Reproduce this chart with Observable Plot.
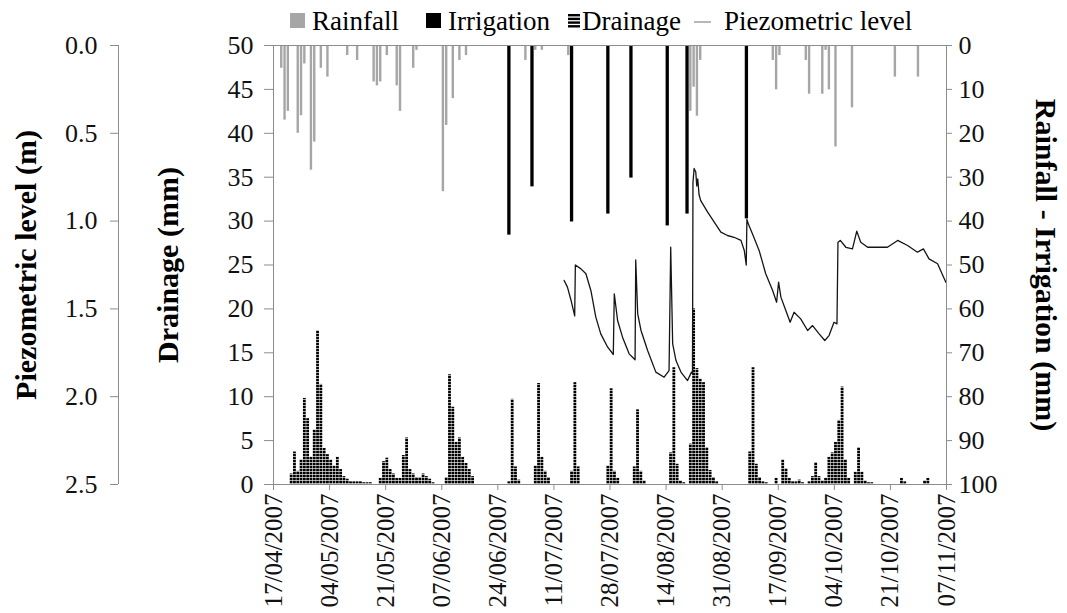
<!DOCTYPE html>
<html>
<head>
<meta charset="utf-8">
<script src="https://cdn.jsdelivr.net/npm/d3@7"></script>
<script src="https://cdn.jsdelivr.net/npm/@observablehq/plot@0.6"></script>
<style>
  body { margin: 0; background: #fff; font-family: "Liberation Serif", "Times New Roman", "DejaVu Serif", serif; }
  #wrap { position: relative; width: 1067px; height: 613px; overflow: hidden; background: #fff; }
  #legend { position: absolute; left: 0; top: 0; width: 1067px; height: 40px; font-size: 27px; color: #000; }
  #legend .lbl { position: absolute; top: 8px; line-height: 27px; white-space: nowrap; }
  #legend .sw { position: absolute; }
  #chart { position: absolute; left: 0; top: 40px; }
</style>
</head>
<body>
<svg width="0" height="0" style="position:absolute">
  <defs>
    <pattern id="drainPattern" patternUnits="userSpaceOnUse" width="4" height="3">
      <rect x="0" y="0" width="4" height="2.35" fill="#000"></rect>
    </pattern>
  </defs>
</svg>
<div id="wrap">
  <div id="legend"></div>
  <div id="chart"></div>
</div>
<script>
// ---------------- data ----------------
const startDate = "2007-04-17";
const tickLabels = ["17/04/2007","04/05/2007","21/05/2007","07/06/2007","24/06/2007","11/07/2007",
  "28/07/2007","14/08/2007","31/08/2007","17/09/2007","04/10/2007","21/10/2007","07/11/2007"];

// days counted from startDate
const rainDay = [2,3,4,7,8,9,11,12,14,16,22,25,30,31,32,34,37,38,42,43,51,52,54,56,58,
  76,79,81,89,126,127,128,129,151,152,153,161,162,166,167,168,170,175,188,195];
const rainMm = [5.2,17,15,20,16,4.2,28.4,22,5.2,7.2,2.3,3.4,8.3,9.2,8.3,2.3,9.2,15,5.2,1.1,33.3,18.2,12.1,3.4,2.3,
  3.4,1.1,1.1,2.3,15,9.5,16.1,3.4,3.4,10.1,2.3,3.4,11.1,11.1,1.1,10.1,23.1,14.2,7.2,7.2];

const irrigationDay = [71,78,90,101,108,119,125,143];
const irrigationMm = [43.2,32.2,40.2,38.4,30.2,41.1,38.4,39.5];

const drainageDay = [5,6,7,8,9,10,11,12,13,14,15,16,17,18,19,20,21,22,23,24,25,26,27,28,29,
  32,33,34,35,36,37,38,39,40,41,42,43,44,45,46,47,48,
  52,53,54,55,56,57,58,59,60,
  71,72,73,74,
  79,80,81,82,83,
  90,91,92,
  101,102,103,104,
  109,110,111,112,
  120,121,122,123,124,
  126,127,128,129,130,131,132,133,134,
  144,145,146,147,148,149,
  152,154,155,156,157,158,159,160,162,163,164,165,166,167,168,169,170,171,172,173,174,
  176,177,178,179,180,181,190,191,197,198];
const drainageMm = [1.2,3.7,1.5,2.8,9.8,7.5,3.1,6.2,17.5,11.4,4.1,3.4,2.8,2.1,3.1,1.7,0.9,0.6,0.3,0.3,0.3,0.3,0.2,0.2,0.2,
  0.7,2.6,3.0,1.7,1.2,0.7,0.7,3.3,5.3,1.7,1.2,0.8,0.8,1.2,0.9,0.6,0.2,
  0.8,12.5,8.8,4.8,5.3,3.1,2.4,1.7,0.9,
  0.3,9.7,2.0,0.5,
  2.1,11.5,3.1,1.5,0.8,
  1.5,11.6,2.0,
  2.1,10.9,1.5,0.7,
  2.0,8.5,1.5,0.4,
  3.6,13.3,2.3,0.4,0.2,
  4.6,20,13.2,12,11.6,4.2,1.6,0.8,0.3,
  3.7,13.3,2.3,0.8,0.3,0.2,
  0.7,2.8,1.8,0.7,0.3,0.3,0.5,0.2,0.3,0.9,2.5,0.9,0.4,0.7,3.1,3.6,4.8,7.3,11.1,2.8,0.7,
  1.4,4.2,1.4,0.4,0.2,0.2,0.7,0.3,0.4,0.7];

const piezoDay = [88.1,89.1,90.2,91.3,91.5,93.2,94.7,96.2,97.7,99.2,101.3,102.5,103.0,103.3,104.3,105.8,107.8,109.3,109.6,109.8,
  110.4,111.4,113.4,115.9,118.4,119.9,120.4,121.0,122.0,123.5,125.5,126.7,127.0,127.15,127.5,128.0,128.3,128.6,129.0,129.5,
  131.6,133.6,135.6,137.6,139.6,141.7,142.7,143.3,143.5,144.0,145.2,147.2,149.2,151.3,152.5,153.1,153.8,155.3,156.6,157.8,
  159.8,161.9,163.4,165.4,167.1,168.4,169.9,170.8,171.1,171.8,173.5,175.5,176.8,178.0,180.1,183.1,186.1,189.2,192.2,195.2,
  197.0,198.7,201.3,203.8];
const piezoLevel = [1.338,1.376,1.452,1.54,1.25,1.272,1.30,1.395,1.547,1.642,1.718,1.747,1.76,1.414,1.566,1.661,1.756,1.784,1.79,1.221,
  1.528,1.623,1.737,1.86,1.889,1.851,1.149,1.699,1.794,1.86,1.908,1.86,1.87,0.78,0.70,0.72,0.80,0.76,0.85,0.883,
  0.949,1.006,1.063,1.082,1.092,1.11,1.167,1.25,0.99,1.02,1.073,1.167,1.30,1.395,1.462,1.348,1.433,1.509,1.576,1.519,
  1.557,1.623,1.595,1.642,1.68,1.652,1.576,1.585,1.12,1.11,1.149,1.158,1.057,1.12,1.149,1.149,1.149,1.11,1.139,1.177,
  1.158,1.215,1.243,1.348];

const piezoTicks = [0, 0.5, 1.0, 1.5, 2.0, 2.5];
const drainageTicks = [0, 5, 10, 15, 20, 25, 30, 35, 40, 45, 50];
const rainTicks = [0, 10, 20, 30, 40, 50, 60, 70, 80, 90, 100];

// ---------------- helpers ----------------
const t0 = d3.utcParse("%Y-%m-%d")(startDate).getTime();
const toDate = d => new Date(t0 + d * 864e5);
const parseTick = d3.utcParse("%d/%m/%Y");
const tickDates = tickLabels.map(parseTick);
// all values share the drainage scale (0–50 mm)
const fromPiezo = m => 50 - m * 20;    // 0–2.5 m, inverted
const fromRain = r => 50 - r / 2;      // 0–100 mm, inverted

const rain = rainDay.map((d, i) => ({day: d, v: rainMm[i]}));
const irrigation = irrigationDay.map((d, i) => ({day: d, v: irrigationMm[i]}));
const drainage = drainageDay.map((d, i) => ({day: d, v: drainageMm[i]}));
const piezo = piezoDay.map((d, i) => ({day: d, v: piezoLevel[i]}));

const axisGray = "#8c8c8c";
const textCol = "#111";
const serif = "'Liberation Serif', 'Times New Roman', 'DejaVu Serif', serif";

const chart = Plot.plot({
  width: 1067,
  height: 573,
  marginTop: 5,
  marginBottom: 129,
  marginLeft: 273,
  marginRight: 121,
  style: {fontFamily: serif, background: "#fff", overflow: "visible"},
  x: {type: "utc", domain: [toDate(0), tickDates[tickDates.length - 1]]},
  y: {domain: [0, 50]},
  marks: [
    Plot.rect(rain, {x1: d => toDate(d.day), x2: d => toDate(d.day + 1), y1: 50, y2: d => fromRain(d.v),
      fill: "#a6a6a6", insetLeft: 0.45, insetRight: 0.45}),
    Plot.rect(irrigation, {x1: d => toDate(d.day), x2: d => toDate(d.day + 1), y1: 50, y2: d => fromRain(d.v),
      fill: "#000"}),
    Plot.rect(drainage, {x1: d => toDate(d.day), x2: d => toDate(d.day + 1), y1: 0, y2: d => d.v,
      fill: "url(#drainPattern)", insetLeft: 0.25, insetRight: 0.25}),
    Plot.line(piezo, {x: d => toDate(d.day), y: d => fromPiezo(d.v), stroke: "#151515", strokeWidth: 1.3}),
    Plot.frame({stroke: axisGray}),
    // drainage axis (left)
    Plot.axisY(drainageTicks, {anchor: "left", tickSize: 9, tickPadding: 11, fontSize: 26,
      stroke: axisGray, fill: textCol, tickFormat: d => String(d)}),
    // piezometric axis (far left)
    Plot.ruleX([toDate(0)], {dx: -155, stroke: axisGray}),
    Plot.axisY(piezoTicks.map(fromPiezo), {anchor: "left", dx: -155, tickSize: 8, tickPadding: 13, fontSize: 26,
      stroke: axisGray, fill: textCol, tickFormat: y => ((50 - y) / 20).toFixed(1)}),
    // rainfall - irrigation axis (right)
    Plot.axisY(rainTicks.map(fromRain), {anchor: "right", tickSize: 5, tickPadding: 7, fontSize: 26,
      stroke: axisGray, fill: textCol, tickFormat: y => String(Math.round((50 - y) * 2))}),
    // date axis
    Plot.axisX(tickDates, {anchor: "bottom", tickSize: 6, tickPadding: 3, tickRotate: -90, fontSize: 25,
      stroke: axisGray, fill: textCol, tickFormat: d => tickLabels[tickDates.findIndex(t => +t === +d)]}),
    // axis titles
    Plot.text(["Piezometric level (m)"], {frameAnchor: "left", dx: -247, rotate: -90, textAnchor: "middle",
      lineAnchor: "middle", fontSize: 30, fontWeight: "bold", fill: "#000"}),
    Plot.text(["Drainage (mm)"], {frameAnchor: "left", dx: -105, rotate: -90, textAnchor: "middle",
      lineAnchor: "middle", fontSize: 30, fontWeight: "bold", fill: "#000"}),
    Plot.text(["Rainfall - Irrigation (mm)"], {frameAnchor: "right", dx: 99, rotate: 90, textAnchor: "middle",
      lineAnchor: "middle", fontSize: 30, fontWeight: "bold", fill: "#000"})
  ]
});
document.getElementById("chart").append(chart);

// ---------------- legend ----------------
const legendItems = [
  {label: "Rainfall", kind: "rain", sw: 290, tx: 312},
  {label: "Irrigation", kind: "irr", sw: 426, tx: 448},
  {label: "Drainage", kind: "drain", sw: 568, tx: 582},
  {label: "Piezometric level", kind: "piezo", sw: 694, tx: 724}
];
const legend = d3.select("#legend");
for (const it of legendItems) {
  const s = legend.append("svg").attr("class", "sw")
    .style("left", it.sw + "px").style("top", "13px")
    .attr("width", 20).attr("height", 16);
  if (it.kind === "rain") s.append("rect").attr("width", 15).attr("height", 15).attr("fill", "#a6a6a6");
  if (it.kind === "irr") s.append("rect").attr("width", 15).attr("height", 15).attr("fill", "#000");
  if (it.kind === "drain") {
    for (let k = 0; k < 4; k++) s.append("rect").attr("y", 1 + k * 3.7).attr("width", 12).attr("height", 2.4).attr("fill", "#000");
  }
  if (it.kind === "piezo") s.append("line").attr("x1", 0).attr("x2", 17).attr("y1", 9).attr("y2", 9)
    .attr("stroke", "#a0a0a0").attr("stroke-width", 1.5);
  legend.append("span").attr("class", "lbl").style("left", it.tx + "px").text(it.label);
}
</script>
</body>
</html>
